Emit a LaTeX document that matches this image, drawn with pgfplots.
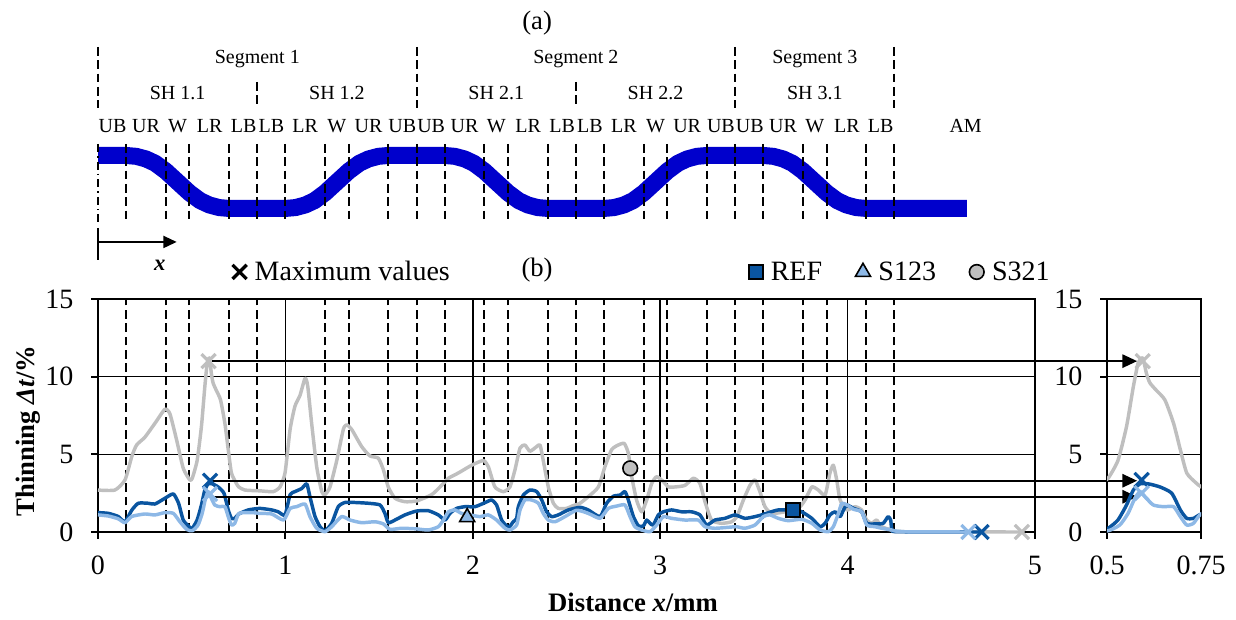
\documentclass[border=0pt]{standalone}
\usepackage{fontspec}
\setmainfont{Liberation Serif}
\usepackage{pgfplots}
\usepackage{pgfplotstable}
\pgfplotsset{compat=1.18}
\usetikzlibrary{arrows.meta}
\definecolor{refblue}{RGB}{10,85,160}
\definecolor{s123}{RGB}{141,184,230}
\definecolor{s321}{RGB}{191,191,191}
\definecolor{profblue}{RGB}{0,0,204}

\pgfplotstableread{
x y
0 2.7
0.09 2.7
0.144 3.35
0.18 4.85
0.206 5.6
0.25 6.1
0.304 7.0
0.357 7.9
0.384 7.6
0.42 5.9
0.455 4.1
0.49 3.35
0.503 3.46
0.529 4.6
0.552 6.8
0.570 9.35
0.583 10.9
0.595 11.2
0.605 10.2
0.614 9.6
0.632 9.1
0.654 8.5
0.677 7.0
0.695 5.3
0.712 3.8
0.735 3.2
0.751 2.9
0.784 2.7
0.864 2.65
0.935 2.6
0.971 2.9
0.998 3.8
1.025 6.6
1.051 8.1
1.078 8.8
1.105 9.9
1.119 9.4
1.14 7.0
1.167 4.2
1.194 2.6
1.211 2.4
1.238 2.9
1.274 4.6
1.309 6.6
1.327 6.9
1.354 6.6
1.407 5.5
1.451 4.9
1.496 4.75
1.523 4.0
1.549 2.9
1.585 2.17
1.638 1.95
1.70 2.0
1.78 2.4
1.825 2.9
1.87 3.46
1.923 3.8
1.994 4.3
2.056 4.6
2.083 4.2
2.118 2.9
2.163 2.6
2.198 2.9
2.225 4.0
2.252 5.4
2.278 5.6
2.305 5.2
2.341 5.5
2.359 5.6
2.376 4.6
2.403 2.9
2.43 1.85
2.456 1.52
2.5 1.52
2.536 1.7
2.572 1.85
2.616 2.27
2.67 2.9
2.705 4.2
2.741 5.3
2.776 5.6
2.808 5.7
2.83 5.07
2.848 3.56
2.874 2.06
2.901 1.3
2.928 2.06
2.955 3.13
2.981 3.56
3.017 3.24
3.044 2.9
3.08 2.9
3.132 3.0
3.177 3.46
3.212 3.13
3.239 1.95
3.274 0.77
3.327 0.56
3.381 0.66
3.41 1.0
3.444 2.06
3.479 3.0
3.506 3.35
3.532 2.6
3.559 1.63
3.595 1.2
3.666 1.3
3.737 1.52
3.773 2.06
3.809 2.9
3.844 2.7
3.88 2.38
3.906 3.8
3.924 4.3
3.942 3.35
3.96 2.06
3.996 1.42
4.04 1.63
4.075 1.42
4.102 0.77
4.129 0.56
4.155 0.77
4.182 0.34
4.235 0.13
4.28 0.02
4.93 0
}\grayd

\pgfplotstableread{
x y
0 1.25
0.055 1.2
0.108 1.0
0.144 0.65
0.18 1.4
0.215 1.85
0.268 1.85
0.304 1.8
0.357 2.17
0.402 2.45
0.43 1.85
0.455 0.77
0.49 0.3
0.503 0.24
0.529 0.77
0.552 1.74
0.57 2.7
0.588 3.1
0.61 3.1
0.641 2.9
0.672 2.5
0.695 1.42
0.712 0.88
0.73 0.88
0.751 1.16
0.802 1.42
0.864 1.52
0.927 1.42
0.962 1.3
0.998 1.1
1.025 2.4
1.051 2.6
1.087 2.8
1.114 3.1
1.131 2.27
1.158 1.0
1.185 0.34
1.211 0.08
1.247 0.56
1.282 1.63
1.318 1.9
1.371 1.9
1.443 1.85
1.505 1.74
1.531 1.2
1.549 0.6
1.585 0.77
1.638 1.1
1.70 1.35
1.763 1.37
1.816 1.1
1.852 0.77
1.878 1.2
1.914 1.52
1.958 1.63
2.012 1.63
2.065 1.89
2.1 2.06
2.127 1.74
2.154 0.77
2.19 0.3
2.216 0.66
2.234 0.88
2.243 1.63
2.27 2.38
2.305 2.7
2.341 2.6
2.368 2.06
2.394 1.3
2.421 0.99
2.456 1.1
2.51 1.42
2.572 1.59
2.616 1.42
2.679 0.99
2.714 1.85
2.75 2.3
2.786 2.38
2.812 2.6
2.83 2.06
2.857 0.99
2.884 0.39
2.91 0.39
2.928 0.77
2.946 0.56
2.963 0.45
2.99 1.1
3.017 1.3
3.061 1.42
3.115 1.3
3.168 1.3
3.212 1.1
3.248 0.45
3.292 0.77
3.346 0.88
3.399 1.1
3.452 0.88
3.506 0.99
3.541 1.1
3.577 1.24
3.63 1.42
3.71 1.42
3.755 1.3
3.809 0.88
3.853 0.34
3.88 0.56
3.906 1.1
3.933 1.3
3.96 0.99
3.978 1.42
3.996 1.74
4.032 1.52
4.075 1.3
4.102 0.56
4.146 0.52
4.19 0.56
4.216 0.99
4.23 0.77
4.237 0.13
4.27 0.02
4.715 0
}\refd

\pgfplotstableread{
x y
0 1.1
0.055 1.03
0.108 0.85
0.144 0.6
0.18 1.0
0.25 1.16
0.304 1.1
0.357 1.25
0.402 1.2
0.437 0.66
0.473 0.17
0.503 0.08
0.534 0.45
0.556 1.2
0.574 2.17
0.588 2.6
0.601 2.27
0.623 1.74
0.65 1.63
0.677 1.63
0.695 0.99
0.712 0.45
0.73 0.56
0.753 1.2
0.82 1.25
0.864 1.2
0.927 1.16
0.99 0.77
1.025 1.52
1.06 1.63
1.105 1.8
1.131 0.99
1.167 0.24
1.211 0.02
1.247 0.34
1.3 0.99
1.345 0.77
1.407 0.6
1.478 0.66
1.523 0.52
1.558 0.17
1.62 0.24
1.70 0.2
1.763 0.13
1.816 0.34
1.843 0.77
1.87 1.3
1.905 1.42
1.94 1.2
1.985 1.1
2.038 0.99
2.083 1.1
2.127 0.77
2.172 0.24
2.198 0.13
2.234 0.45
2.252 1.42
2.278 2.06
2.314 2.06
2.35 1.85
2.376 1.2
2.403 0.77
2.439 0.66
2.492 0.99
2.554 1.4
2.616 1.2
2.679 0.88
2.723 1.52
2.768 1.67
2.812 1.74
2.839 0.99
2.865 0.34
2.901 0.13
2.946 0.02
2.981 0.45
3.017 0.99
3.061 0.88
3.132 0.77
3.203 0.77
3.239 0.34
3.292 0.24
3.363 0.3
3.408 0.34
3.452 0.24
3.506 0.45
3.55 0.99
3.586 1.1
3.63 0.88
3.683 0.73
3.755 0.82
3.809 0.56
3.853 0.13
3.897 0.02
3.924 0.34
3.951 1.2
3.969 1.85
3.996 1.74
4.032 1.46
4.075 1.3
4.102 0.45
4.146 0.34
4.182 0.24
4.235 0.13
4.29 0.02
4.645 0
}\sod

\pgfplotsset{
  curve/.style={line width=2.6pt, smooth, tension=0.35, line join=round, forget plot},
  maxmark/.style={only marks, mark=x, mark size=7.5pt, line width=2.4pt, forget plot},
  ticklab/.style={
    tick label style={font=\fontsize{21pt}{21pt}\selectfont},
    yticklabel style={xshift=-10pt},
    xticklabel style={yshift=-9.5pt},
    /pgf/number format/assume math mode=true},
}
\tikzset{topfont/.style={font=\fontsize{15pt}{15pt}\selectfont},
  dsh/.style={black, line width=1.5pt, dash pattern=on 6.5pt off 3.5pt}}

\begin{document}
\begin{tikzpicture}
\path[use as bounding box] (0,0) rectangle (927pt,464.25pt);

% ---------------- (a) profile diagram ----------------
\begin{axis}[at={(73.5pt,244.3pt)}, anchor=south west, scale only axis,
  width=702.75pt, height=210.7pt, xmin=0, xmax=5, ymin=-1.6, ymax=3.7,
  hide axis, clip=false,
  legend style={draw=none, fill=none, font=\fontsize{21pt}{21pt}\selectfont,
    at={(0.139,0.076)}, anchor=west,
    /tikz/every odd column/.append style={column sep=4pt}},
  legend cell align=left]
\addlegendimage{only marks, mark=x, mark size=7.5pt, line width=2.4pt, black}
\addlegendentry{Maximum values}
\addplot[profblue, line width=12.75pt, line join=round, forget plot] coordinates {
(0,1) (0.15,1) (0.2039,0.9833) (0.2562,0.9338) (0.3053,0.8528) (0.3618,0.7051)
(0.4882,0.2949) (0.5447,0.1472) (0.5938,0.0662) (0.6461,0.0167) (0.70,0)
(1.0,0) (1.0539,0.0167) (1.1062,0.0662) (1.1553,0.1472) (1.2118,0.2949)
(1.3382,0.7051) (1.3947,0.8528) (1.4438,0.9338) (1.4961,0.9833) (1.55,1)
(1.85,1) (1.9039,0.9833) (1.9562,0.9338) (2.0053,0.8528) (2.0618,0.7051)
(2.1882,0.2949) (2.2447,0.1472) (2.2938,0.0662) (2.3461,0.0167) (2.40,0)
(2.70,0) (2.7539,0.0167) (2.8062,0.0662) (2.8553,0.1472) (2.9118,0.2949)
(3.0382,0.7051) (3.0947,0.8528) (3.1438,0.9338) (3.1961,0.9833) (3.25,1)
(3.55,1) (3.6039,0.9833) (3.6562,0.9338) (3.7053,0.8528) (3.7618,0.7051)
(3.8882,0.2949) (3.9447,0.1472) (3.9938,0.0662) (4.0461,0.0167) (4.10,0)
(4.637,0)};
\pgfplotsinvokeforeach{0.15,0.362,0.488,0.70,0.85,1.0,1.212,1.338,1.55,1.70,1.85,2.062,2.188,2.40,2.55,2.70,2.912,3.038,3.25,3.40,3.55,3.762,3.888,4.10,4.25}{
  \draw[dsh] (axis cs:#1,1.217) -- (axis cs:#1,-0.255);}
\draw[black, line width=1.2pt, dash pattern=on 6pt off 3pt on 1.2pt off 3pt] (axis cs:0,1.217) -- (axis cs:0,-0.255);
\pgfplotsinvokeforeach{0,1.70,3.40,4.25}{
  \draw[dsh] (axis cs:#1,3.047) -- (axis cs:#1,1.896);}
\pgfplotsinvokeforeach{0.85,2.55}{
  \draw[dsh] (axis cs:#1,2.387) -- (axis cs:#1,1.896);}
% segment / SH labels
\node[topfont, anchor=base] at (axis cs:0.85,2.726) {Segment 1};
\node[topfont, anchor=base] at (axis cs:2.55,2.726) {Segment 2};
\node[topfont, anchor=base] at (axis cs:3.825,2.726) {Segment 3};
\node[topfont, anchor=base] at (axis cs:0.425,2.06) {SH 1.1};
\node[topfont, anchor=base] at (axis cs:1.275,2.06) {SH 1.2};
\node[topfont, anchor=base] at (axis cs:2.125,2.06) {SH 2.1};
\node[topfont, anchor=base] at (axis cs:2.975,2.06) {SH 2.2};
\node[topfont, anchor=base] at (axis cs:3.825,2.06) {SH 3.1};
% zone labels
\pgfplotsinvokeforeach{0,1.7,3.4}{
  \node[topfont, anchor=base] at (axis cs:#1+0.078,1.438) {UB};
  \node[topfont, anchor=base] at (axis cs:#1+0.256,1.438) {UR};
  \node[topfont, anchor=base] at (axis cs:#1+0.425,1.438) {W};
  \node[topfont, anchor=base] at (axis cs:#1+0.596,1.438) {LR};
  \node[topfont, anchor=base] at (axis cs:#1+0.777,1.438) {LB};}
\pgfplotsinvokeforeach{0,1.7}{
  \node[topfont, anchor=base] at (axis cs:#1+0.925,1.438) {LB};
  \node[topfont, anchor=base] at (axis cs:#1+1.106,1.438) {LR};
  \node[topfont, anchor=base] at (axis cs:#1+1.275,1.438) {W};
  \node[topfont, anchor=base] at (axis cs:#1+1.444,1.438) {UR};
  \node[topfont, anchor=base] at (axis cs:#1+1.624,1.438) {UB};}
\node[topfont, anchor=base] at (axis cs:4.63,1.438) {AM};
\node[font=\fontsize{20pt}{20pt}\selectfont, anchor=base] at (axis cs:2.343,3.381) {(a)};
\node[font=\fontsize{20pt}{20pt}\selectfont, anchor=base] at (axis cs:2.343,-1.29) {(b)};
% x direction arrow
\draw[black, line width=1.5pt] (axis cs:0,-0.368) -- (axis cs:0,-0.972);
\draw[black, line width=1.5pt, -{Triangle[length=10pt,width=9pt]}] (axis cs:0,-0.632) -- (axis cs:0.42,-0.632);
\node[font=\fontsize{17pt}{17pt}\selectfont\bfseries\itshape, anchor=base] at (axis cs:0.33,-1.17) {x};
\end{axis}

% ---------------- (b) main axis ----------------
\begin{axis}[at={(73.5pt,65.25pt)}, anchor=south west, scale only axis,
  width=702.75pt, height=174.75pt,
  xmin=0, xmax=5, ymin=0, ymax=15,
  xtick={0,1,2,3,4,5}, ytick={0,5,10,15},
  xtick pos=left, ytick pos=left, tick align=outside, major tick length=5pt,
  grid=major, major grid style={black, line width=1.1pt},
  axis line style={black, line width=2pt},
  every tick/.style={black, line width=1.5pt},
  extra x ticks={0.15,0.362,0.488,0.70,0.85,1.212,1.338,1.55,1.70,1.85,2.062,2.188,2.40,2.55,2.70,2.912,3.038,3.25,3.40,3.55,3.762,3.888,4.10,4.25},
  extra x tick labels={},
  extra x tick style={major grid style={black, line width=1.5pt, dash pattern=on 6.5pt off 3.5pt}, major tick length=0pt},
  ticklab,
  xlabel={Distance \textit{x}/mm},
  ylabel={Thinning \textit{Δt}/\%},
  every axis x label/.style={at={(axis description cs:0.571,-0.30)}, anchor=center, font=\fontsize{20pt}{20pt}\selectfont\bfseries},
  every axis y label/.style={at={(axis description cs:-0.074,0.4335)}, rotate=90, anchor=center, font=\fontsize{20pt}{20pt}\selectfont\bfseries},
  clip=false,
  legend style={draw=none, fill=none, font=\fontsize{21pt}{21pt}\selectfont,
    at={(0.69,1.116)}, anchor=west, legend columns=3,
    /tikz/every odd column/.append style={column sep=4pt},
    /tikz/every even column/.append style={column sep=23pt}},
  legend cell align=left]
\addlegendimage{only marks, mark=square*, mark size=5.25pt, mark options={fill=refblue, draw=black, line width=1.2pt}}
\addlegendentry{REF}
\addlegendimage{only marks, mark=triangle*, mark size=6.5pt, mark options={fill=s123, draw=black, line width=1.2pt}}
\addlegendentry{S123}
\addlegendimage{only marks, mark=*, mark size=5.5pt, mark options={fill=s321, draw=black, line width=1.2pt}}
\addlegendentry{S321}

\addplot[curve, s321] table[x=x,y=y] {\grayd};
\addplot[curve, refblue] table[x=x,y=y] {\refd};
\addplot[curve, s123] table[x=x,y=y] {\sod};

\draw[black, line width=1.2pt, -{Triangle[length=11pt,width=10pt]}] (axis cs:0.61,11.0) -- (axis cs:5.545,11.0);
\draw[black, line width=1.2pt, -{Triangle[length=11pt,width=10pt]}] (axis cs:0.61,3.3) -- (axis cs:5.545,3.3);
\draw[black, line width=1.2pt, -{Triangle[length=11pt,width=10pt]}] (axis cs:0.615,2.27) -- (axis cs:5.545,2.27);

\addplot[maxmark, s321] coordinates {(0.59,11.0) (4.93,0)};
\addplot[maxmark, refblue] coordinates {(0.598,3.3) (4.715,0)};
\addplot[maxmark, s123] coordinates {(0.598,2.45) (4.645,0)};

\addplot[only marks, mark=triangle*, mark size=6.5pt, mark options={fill=s123, draw=black, line width=1.2pt}, forget plot] coordinates {(1.97,0.95)};
\addplot[only marks, mark=*, mark size=5.5pt, mark options={fill=s321, draw=black, line width=1.2pt}, forget plot] coordinates {(2.84,4.1)};
\addplot[only marks, mark=square*, mark size=5.25pt, mark options={fill=refblue, draw=black, line width=1.2pt}, forget plot] coordinates {(3.71,1.42)};
\end{axis}

% ---------------- inset ----------------
\begin{axis}[at={(830.25pt,65.25pt)}, anchor=south west, scale only axis,
  width=70.5pt, height=174.75pt,
  xmin=0.5, xmax=0.75, ymin=0, ymax=15,
  xtick={0.5,0.75}, xticklabels={0.5,0.75}, ytick={0,5,10,15},
  xtick pos=left, ytick pos=left, tick align=outside, major tick length=5pt,
  ymajorgrids, major grid style={black, line width=1.1pt},
  axis line style={black, line width=2pt},
  every tick/.style={black, line width=1.5pt},
  ticklab]
\addplot[curve, s321] table[x=x,y=y] {\grayd};
\addplot[curve, refblue] table[x=x,y=y] {\refd};
\addplot[curve, s123] table[x=x,y=y] {\sod};
\addplot[maxmark, s321] coordinates {(0.595,11.0)};
\addplot[maxmark, refblue] coordinates {(0.592,3.35)};
\addplot[maxmark, s123] coordinates {(0.592,2.5)};
\end{axis}
\end{tikzpicture}
\end{document}
